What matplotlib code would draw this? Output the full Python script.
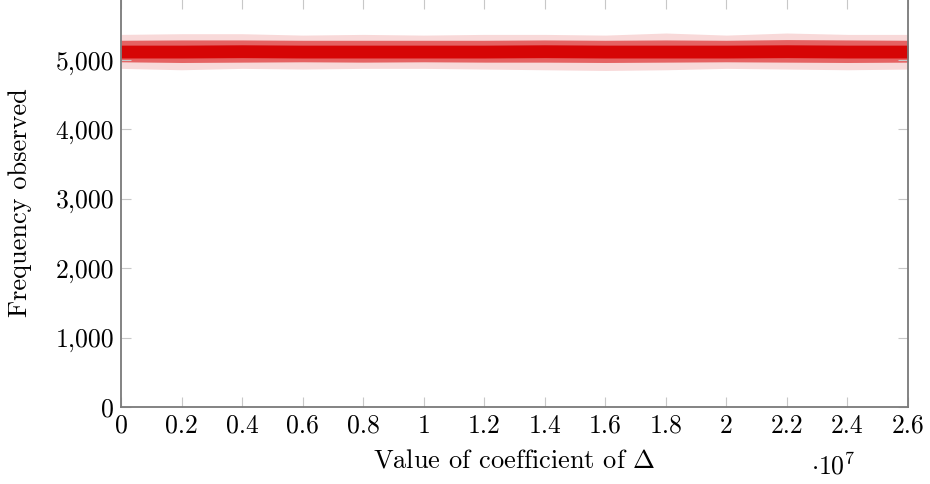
import matplotlib
matplotlib.use("Agg")
import matplotlib.pyplot as plt
from matplotlib.ticker import FuncFormatter

# band of observed frequencies at each x tick (x in units of 1e7)
x_pos = [0.0, 0.2, 0.4, 0.6, 0.8, 1.0, 1.2, 1.4, 1.6, 1.8, 2.0, 2.2, 2.4, 2.6]
tail_hi = [5370, 5380, 5380, 5360, 5370, 5360, 5370, 5370, 5360, 5390, 5360, 5390, 5370, 5370]
edge_hi = [5285, 5290, 5290, 5285, 5285, 5285, 5285, 5290, 5285, 5290, 5285, 5295, 5290, 5285]
core_hi = [5215, 5215, 5220, 5215, 5215, 5215, 5215, 5220, 5215, 5215, 5215, 5220, 5215, 5215]
core_lo = [5030, 5030, 5035, 5030, 5030, 5030, 5030, 5035, 5030, 5030, 5030, 5035, 5030, 5030]
edge_lo = [4975, 4965, 4970, 4975, 4970, 4975, 4970, 4970, 4965, 4970, 4975, 4970, 4965, 4970]
tail_lo = [4880, 4860, 4880, 4870, 4880, 4880, 4870, 4860, 4850, 4860, 4880, 4870, 4860, 4870]

x_ticks = [0, 0.2, 0.4, 0.6, 0.8, 1, 1.2, 1.4, 1.6, 1.8, 2, 2.2, 2.4, 2.6]
y_ticks = [0, 1000, 2000, 3000, 4000, 5000]

plt.rcParams["font.family"] = "serif"
plt.rcParams["font.serif"] = ["cmr10", "DejaVu Serif"]
plt.rcParams["mathtext.fontset"] = "cm"
plt.rcParams["axes.formatter.use_mathtext"] = True

fig = plt.figure(figsize=(9.3, 4.84), dpi=100)
ax = fig.add_axes([121 / 930, 77 / 484, 787 / 930, 408 / 484])

xs = [v * 1e7 for v in x_pos]
red = "#d60000"
ax.fill_between(xs, tail_lo, tail_hi, color=red, alpha=0.15, lw=0)
ax.fill_between(xs, edge_lo, edge_hi, color=red, alpha=0.55, lw=0)
ax.fill_between(xs, core_lo, core_hi, color=red, alpha=0.95, lw=0)

ax.set_xlim(0, 2.6e7)
ax.set_ylim(0, 5880)
ax.set_xticks([v * 1e7 for v in x_ticks])
ax.xaxis.set_major_formatter(FuncFormatter(lambda v, p: ("%g" % (v / 1e7))))
ax.set_yticks(y_ticks)
ax.yaxis.set_major_formatter(FuncFormatter(lambda v, p: "{:,}".format(int(v))))

for s in ax.spines.values():
    s.set_color("#7a7a7a")
    s.set_linewidth(1.3)
ax.spines["top"].set_visible(False)
ax.tick_params(direction="in", length=7, width=0.8, color="#c8c8c8",
               top=True, right=True, labelsize=18.5, pad=5)

ax.set_xlabel(r"Value of coefficient of $\Delta$", fontsize=19, labelpad=8)
ax.set_ylabel("Frequency observed", fontsize=19, labelpad=17)
fig.text(833 / 930, 1 - 466 / 484, r"$\cdot 10^7$", fontsize=18.5, ha="center", va="center")

fig.savefig("out.png", dpi=100)
